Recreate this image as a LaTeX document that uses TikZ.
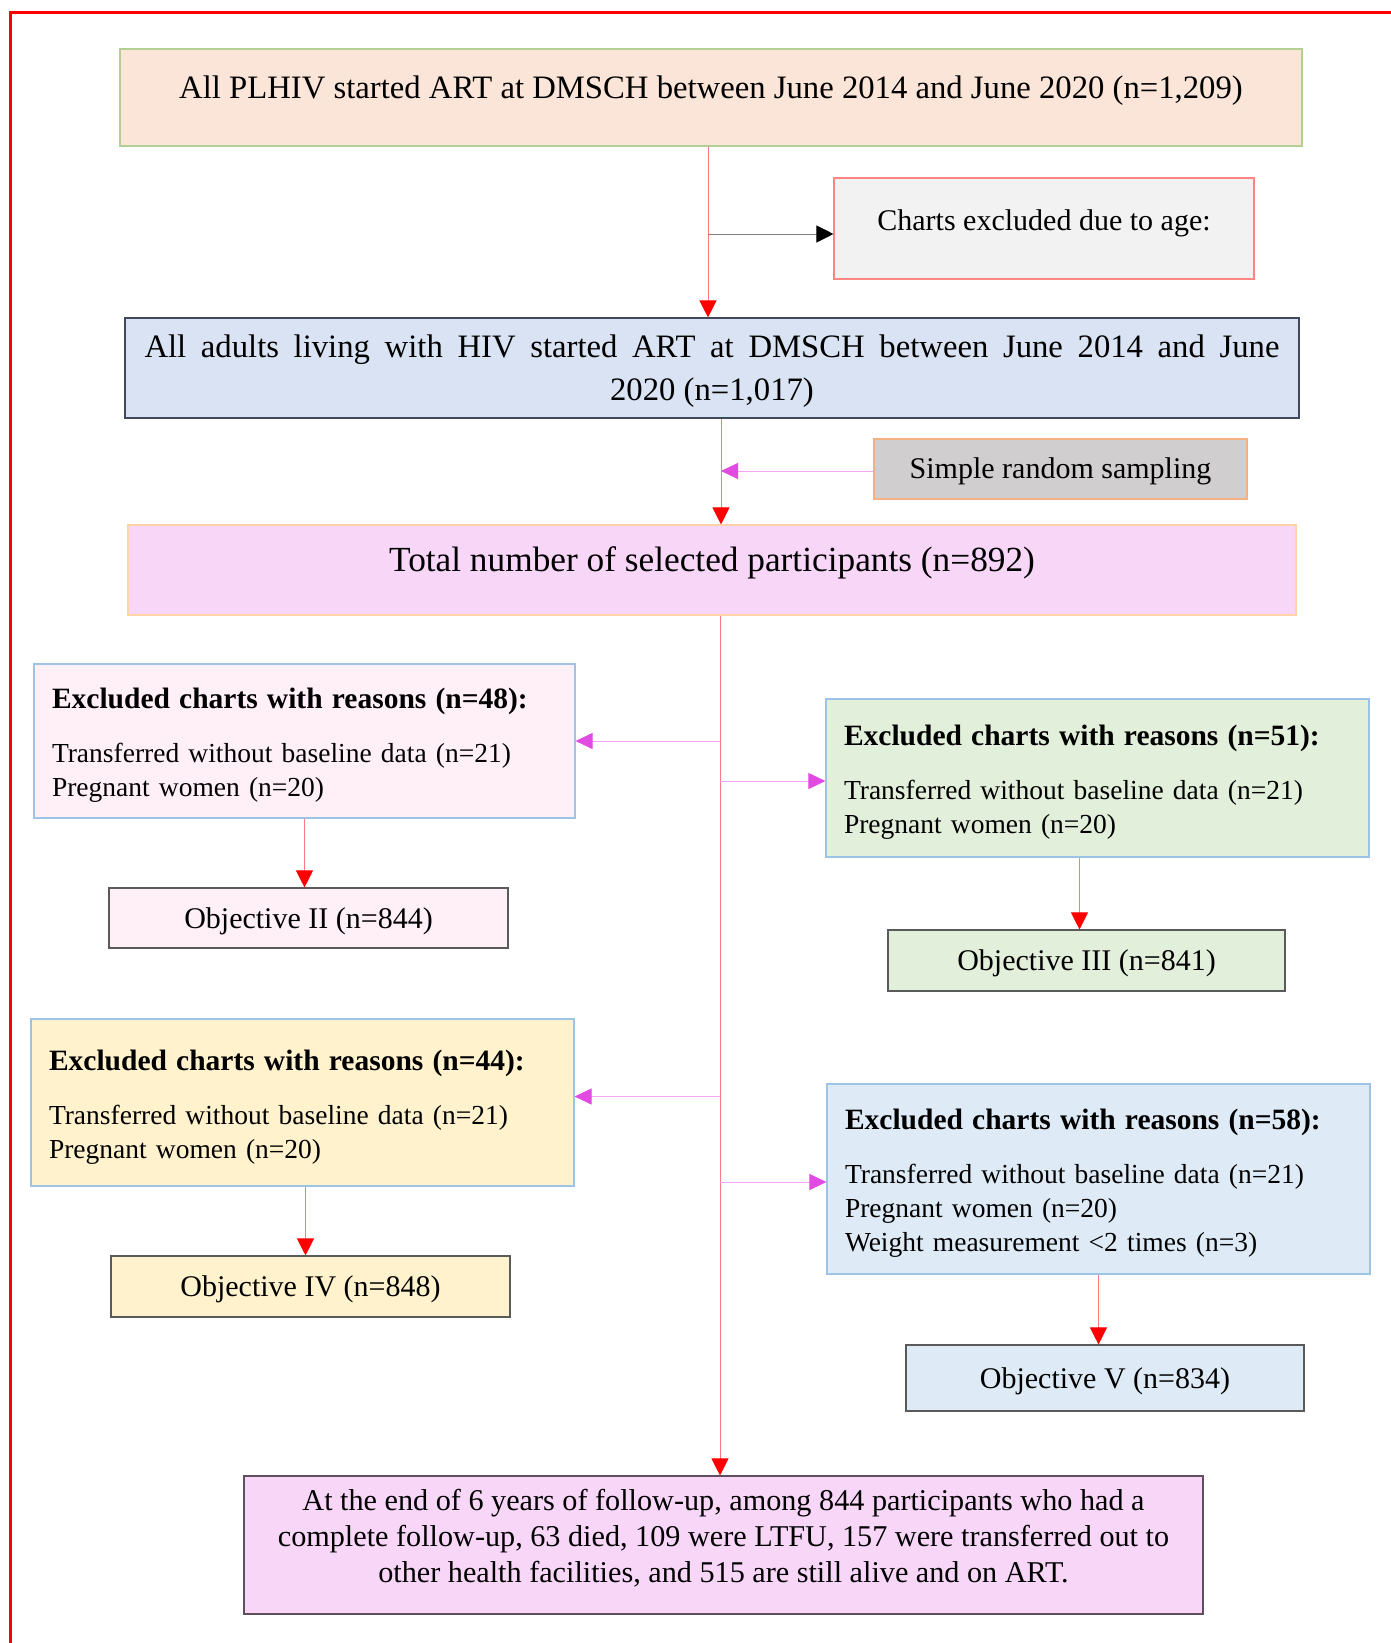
\documentclass[tikz,border=0pt]{standalone}
\usepackage{fontspec}
\setmainfont{Liberation Serif}
\usetikzlibrary{arrows.meta}

\definecolor{peach}{HTML}{FAE5D8}
\definecolor{peachedge}{HTML}{B4CF92}
\definecolor{chartgray}{HTML}{F2F2F2}
\definecolor{chartedge}{HTML}{FF8585}
\definecolor{adultblue}{HTML}{DAE3F3}
\definecolor{adultedge}{HTML}{44475A}
\definecolor{srsgray}{HTML}{D0CECE}
\definecolor{srsedge}{HTML}{F4B183}
\definecolor{lilac}{HTML}{F8D6F8}
\definecolor{lilacedge}{HTML}{FFD3A6}
\definecolor{palepink}{HTML}{FFF0F8}
\definecolor{palegreen}{HTML}{E2EFDA}
\definecolor{paleyellow}{HTML}{FFF2CC}
\definecolor{paleblue}{HTML}{DEEBF7}
\definecolor{exedge}{HTML}{9DC3E6}
\definecolor{objedge}{HTML}{5A5A5A}
\definecolor{finaledge}{HTML}{5F4F5F}
\definecolor{redline}{HTML}{FF7A7A}
\definecolor{magline}{HTML}{F2A6F2}
\definecolor{maghead}{HTML}{E14BE1}

\newcommand{\bigtxt}{\fontsize{32.7}{43}\selectfont}
\newcommand{\midtxt}{\fontsize{30}{36}\selectfont}
\newcommand{\listtxt}{\fontsize{27.5}{34}\selectfont}
\newcommand{\headtxt}{\fontsize{29.5}{34}\selectfont\bfseries}
\newcommand{\lasttxt}{\fontsize{30.2}{36}\selectfont}

\tikzset{
  box/.style={draw, inner sep=0pt, line width=1.1pt},
  exbox/.style={box, draw=exedge, inner xsep=18pt, align=left, font=\listtxt},
  objbox/.style={box, draw=objedge, minimum width=399pt, text height=27pt, text depth=6.5pt, font=\midtxt},
  redarr/.style={draw=redline, line width=0.9pt, -{Triangle[length=17pt, width=17pt, color=red]}},
  magarr/.style={draw=magline, line width=0.9pt, -{Triangle[length=17pt, width=16pt, color=maghead]}},
  blkarr/.style={draw=gray, line width=0.9pt, -{Triangle[length=17pt, width=17pt, color=black]}}
}

\begin{document}
\begin{tikzpicture}[x=1pt, y=-1pt]
  \useasboundingbox (0,0) rectangle (1391,1643);
  % outer frame
  \draw[red, line width=2.5pt] (10.5,1643) -- (10.5,12.5) -- (1391,12.5);

  % top part
  \node[box, draw=peachedge, fill=peach, minimum width=1182pt, minimum height=97pt,
    text height=22pt, text depth=20pt, font=\bigtxt] (plhiv) at (711,97.5)
    {All PLHIV started ART at DMSCH between June 2014 and June 2020 (n=1,209)};
  \node[box, draw=chartedge, fill=chartgray, minimum width=420pt, minimum height=101pt,
    text height=21pt, text depth=18pt, font=\midtxt] (agex) at (1044,228.5)
    {Charts excluded due to age:};
  \node[box, draw=adultedge, fill=adultblue, minimum width=1174pt, minimum height=100pt,
    align=center, font=\bigtxt] (adults) at (712,368)
    {\rule{0pt}{28pt}\makebox[1135pt][s]{All adults living with HIV started ART at DMSCH between June 2014 and June}\\2020 (n=1,017)};
  \node[box, draw=srsedge, fill=srsgray, minimum width=373pt, minimum height=60pt,
    text height=25pt, text depth=6.5pt, font=\midtxt] (srs) at (1060.5,469) {Simple random sampling};
  \node[box, draw=lilacedge, fill=lilac, minimum width=1168pt, minimum height=90pt,
    text height=23pt, text depth=21pt, font=\fontsize{35.3}{40}\selectfont] (total) at (712,570)
    {Total number of selected participants (n=892)};

  % exclusions
  \node[exbox, fill=palepink, text width=505pt, minimum height=154pt] (exA) at (304.5,741)
    {{\headtxt\rule{0pt}{29pt}Excluded charts with reasons (n=48):}\\[20pt]
     Transferred without baseline data (n=21)\\Pregnant women (n=20)};
  \node[objbox, fill=palepink, minimum height=60pt] (obj2) at (308.5,918) {Objective II (n=844)};

  \node[exbox, fill=palegreen, text width=507pt, minimum height=158pt] (exB) at (1097.5,778)
    {{\headtxt\rule{0pt}{29pt}Excluded charts with reasons (n=51):}\\[20pt]
     Transferred without baseline data (n=21)\\Pregnant women (n=20)};
  \node[objbox, fill=palegreen, minimum width=397pt, minimum height=61pt] (obj3) at (1086.5,960.5) {Objective III (n=841)};

  \node[exbox, fill=paleyellow, text width=507pt, minimum height=167pt] (exC) at (302.5,1102.5)
    {{\headtxt\rule{0pt}{29pt}Excluded charts with reasons (n=44):}\\[20pt]
     Transferred without baseline data (n=21)\\Pregnant women (n=20)};
  \node[objbox, fill=paleyellow, minimum height=61pt] (obj4) at (310.5,1286.5) {Objective IV (n=848)};

  \node[exbox, fill=paleblue, text width=507pt, minimum height=190pt] (exD) at (1098.5,1179)
    {{\headtxt\rule{0pt}{29pt}Excluded charts with reasons (n=58):}\\[20pt]
     Transferred without baseline data (n=21)\\Pregnant women (n=20)\\Weight measurement <2 times (n=3)};
  \node[objbox, fill=paleblue, minimum width=398pt, minimum height=66pt] (obj5) at (1105,1378) {Objective V (n=834)};

  \node[box, draw=finaledge, fill=lilac, minimum width=959pt, minimum height=138pt,
    align=center, font=\lasttxt] (final) at (723.5,1545)
    {At the end of 6 years of follow-up, among 844 participants who had a\\
     complete follow-up, 63 died, 109 were LTFU, 157 were transferred out to\\
     other health facilities, and 515 are still alive and on ART.\rule[-18pt]{0pt}{1pt}};

  % spine
  \coordinate (sp1) at (708,0);
  \coordinate (sp2) at (721,0);
  \coordinate (sp3) at (720,0);
  \draw[redarr] (sp1 |- plhiv.south) -- (sp1 |- adults.north);
  \draw[blkarr] (sp1 |- 0,234) -- (agex.west |- 0,234);
  \draw[redarr] (sp2 |- adults.south) -- (sp2 |- total.north);
  \draw[magarr] ([yshift=-2pt]srs.west) -- ([yshift=-2pt]sp2 |- srs.west);
  \draw[redarr] (sp3 |- total.south) -- (sp3 |- final.north);

  % branches
  \draw[magarr] (sp3 |- exA.east) -- (exA.east);
  \draw[magarr] ([yshift=-3pt]sp3 |- exB.west) -- ([yshift=-3pt]exB.west);
  \draw[magarr] ([yshift=6pt]sp3 |- exC.east) -- ([yshift=6pt]exC.east);
  \draw[magarr] ([yshift=-3pt]sp3 |- exD.west) -- ([yshift=-3pt]exD.west);

  \draw[redarr] (exA.south) -- (exA.south |- obj2.north);
  \draw[redarr] ([xshift=-18pt]exB.south) -- ([xshift=-18pt]exB.south |- obj3.north);
  \draw[redarr] ([xshift=3pt]exC.south) -- ([xshift=3pt]exC.south |- obj4.north);
  \draw[redarr] (exD.south) -- (exD.south |- obj5.north);
\end{tikzpicture}
\end{document}
